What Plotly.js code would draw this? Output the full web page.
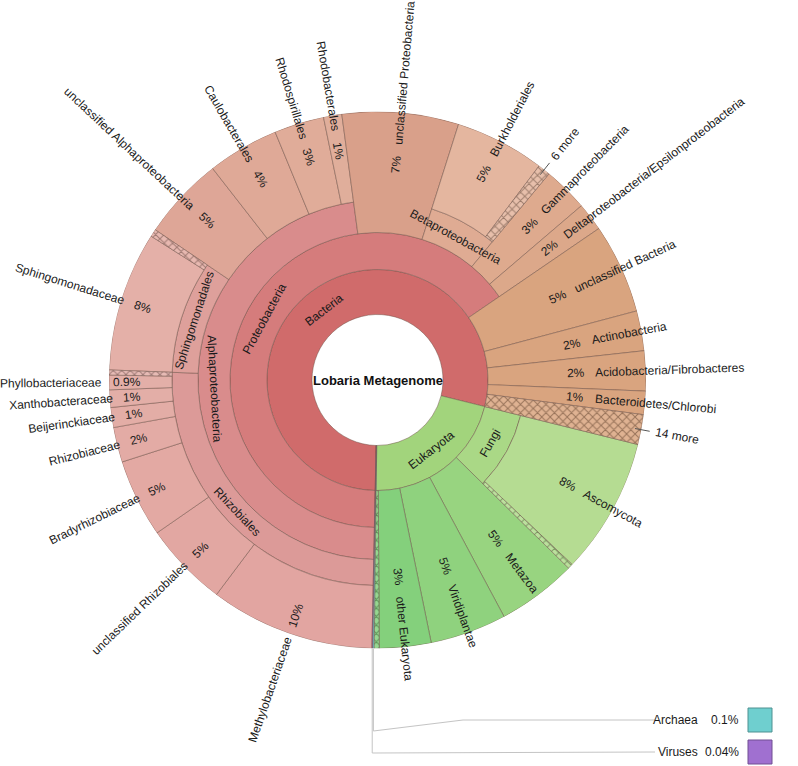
<!DOCTYPE html>
<html>
<head>
<meta charset="utf-8">
<script src="https://cdn.plot.ly/plotly-3.0.1.min.js"></script>
<style>
  html, body { margin: 0; padding: 0; background: #fff; }
  #chart { width: 798px; height: 766px; }
</style>
</head>
<body>
<div id="chart"></div>
<script>
// Krona-like view of the Lobaria metagenome, nodes listed clockwise from 6 o'clock
var names = [
  'Lobaria Metagenome',
  'Bacteria', 'Proteobacteria', 'Alphaproteobacteria', 'Rhizobiales',
  'Methylobacteriaceae', 'unclassified Rhizobiales', 'Bradyrhizobiaceae', 'Rhizobiaceae',
  'Beijerinckiaceae', 'Xanthobacteraceae', 'Phyllobacteriaceae', 'more Rhizobiales',
  'Sphingomonadales', 'Sphingomonadaceae', 'more Sphingomonadales',
  'unclassified Alphaproteobacteria', 'Caulobacterales', 'Rhodospirillales', 'Rhodobacterales',
  'unclassified Proteobacteria',
  'Betaproteobacteria', 'Burkholderiales', '6 more',
  'Gammaproteobacteria', 'Deltaproteobacteria/Epsilonproteobacteria',
  'unclassified Bacteria', 'Actinobacteria', 'Acidobacteria/Fibrobacteres', 'Bacteroidetes/Chlorobi', '14 more',
  'Eukaryota', 'Fungi', 'Ascomycota', 'more Fungi',
  'Metazoa', 'Viridiplantae', 'other Eukaryota', 'more Eukaryota',
  'Archaea', 'Viruses'
];
var parents = [
  '',
  'Lobaria Metagenome', 'Bacteria', 'Proteobacteria', 'Alphaproteobacteria',
  'Rhizobiales', 'Rhizobiales', 'Rhizobiales', 'Rhizobiales',
  'Rhizobiales', 'Rhizobiales', 'Rhizobiales', 'Rhizobiales',
  'Alphaproteobacteria', 'Sphingomonadales', 'Sphingomonadales',
  'Alphaproteobacteria', 'Alphaproteobacteria', 'Alphaproteobacteria', 'Alphaproteobacteria',
  'Proteobacteria',
  'Proteobacteria', 'Betaproteobacteria', 'Betaproteobacteria',
  'Proteobacteria', 'Proteobacteria',
  'Bacteria', 'Bacteria', 'Bacteria', 'Bacteria', 'Bacteria',
  'Lobaria Metagenome', 'Eukaryota', 'Fungi', 'Fungi',
  'Eukaryota', 'Eukaryota', 'Eukaryota', 'Eukaryota',
  'Lobaria Metagenome', 'Lobaria Metagenome'
];
// % of reads for leaves (0 = sum of children)
var values = [
  0,
  0, 0, 0, 0,
  9.9, 5.1, 4.7, 2.1,
  1.2, 1.05, 0.88, 0.3,
  0, 8.4, 0.45,
  5.0, 4.3, 3.0, 1.1,
  7.0,
  0, 5.4, 0.75,
  2.7, 1.7,
  5.4, 2.4, 2.4, 1.4, 1.8,
  0, 0, 8.2, 0.3,
  4.8, 4.6, 3.1, 0.3,
  0.1, 0.04
];
var collapsed = ['more Rhizobiales', 'more Sphingomonadales', '6 more', '14 more', 'more Fungi', 'more Eukaryota'];
var legendNodes = ['Archaea', 'Viruses'];

var colors = {
  'Bacteria': '#d06b6b', 'Proteobacteria': '#d57c7c', 'Alphaproteobacteria': '#d98c8c',
  'Rhizobiales': '#dc9a98', 'Sphingomonadales': '#dea09b',
  'Methylobacteriaceae': '#e2a5a1', 'unclassified Rhizobiales': '#e2a7a2', 'Bradyrhizobiaceae': '#e3a9a3',
  'Rhizobiaceae': '#e3aba5', 'Beijerinckiaceae': '#e3ada6', 'Xanthobacteraceae': '#e3aea7',
  'Phyllobacteriaceae': '#e3afa8', 'more Rhizobiales': '#e3afa8',
  'Sphingomonadaceae': '#e4b0a8', 'more Sphingomonadales': '#e3aca2',
  'unclassified Alphaproteobacteria': '#dea697', 'Caulobacterales': '#dfa997',
  'Rhodospirillales': '#e0ac99', 'Rhodobacterales': '#e0ae9b',
  'unclassified Proteobacteria': '#d9a08a',
  'Betaproteobacteria': '#dfab93', 'Burkholderiales': '#e4b69f', '6 more': '#e3b49c',
  'Gammaproteobacteria': '#deaa8e', 'Deltaproteobacteria/Epsilonproteobacteria': '#dca88a',
  'unclassified Bacteria': '#d9a47f', 'Actinobacteria': '#d9a47f', 'Acidobacteria/Fibrobacteres': '#d9a47f',
  'Bacteroidetes/Chlorobi': '#d9a47f', '14 more': '#d9a47f',
  'Eukaryota': '#a2d47c', 'Fungi': '#aad886', 'Ascomycota': '#b5dc92', 'more Fungi': '#b0da8c',
  'Metazoa': '#98d480', 'Viridiplantae': '#8fd27e', 'other Eukaryota': '#84d07c', 'more Eukaryota': '#84d07c',
  'Archaea': '#6fcfcf', 'Viruses': '#a070d0'
};

var W = 798, H = 766;
var CX = 377.5, CY = 380;
var RING = [0, 65.5, 110.5, 147.5, 179.5, 205.5, 268.5];
var R_OUT = 268.5;
var START = 1.2;          // degrees clockwise from 6 o'clock
var FONT = 'Liberation Sans, Arial, sans-serif';
var FS = 12;

// build tree
var kids = {};
for (var i = 1; i < names.length; i++) {
  if (!kids[parents[i]]) kids[parents[i]] = [];
  kids[parents[i]].push(names[i]);
}
var valueOf = {};
function sumUp(n) {
  var v = kids[n] ? kids[n].reduce(function(s, c) { return s + sumUp(c); }, 0) : values[names.indexOf(n)];
  valueOf[n] = v;
  return v;
}
var grand = sumUp(names[0]);

var nodes = [];
function place(n, a0, depth) {
  var span = valueOf[n] / grand * 360;
  if (depth > 0) nodes.push({name: n, a0: a0, a1: a0 + span, depth: depth, leaf: !kids[n]});
  var a = a0;
  (kids[n] || []).forEach(function(c) {
    place(c, a, depth + 1);
    a += valueOf[c] / grand * 360;
  });
}
place(names[0], START, 0);

function shade(hex, f) {
  var c = [1, 3, 5].map(function(k) { return parseInt(hex.substr(k, 2), 16); });
  c = c.map(function(v) { return Math.round(f > 0 ? v + (255 - v) * f : v * (1 + f)); });
  return 'rgb(' + c.join(',') + ')';
}

var outline = {color: 'rgba(110,80,70,0.6)', width: 0.8};
var solid = {theta: [], width: [], base: [], r: [], color: [], text: []};
var traces = [];
nodes.forEach(function(nd) {
  var inner = RING[nd.depth];
  var outer = nd.leaf ? R_OUT : RING[nd.depth + 1];
  nd.inner = inner; nd.outer = outer;
  var th = (nd.a0 + nd.a1) / 2, wd = nd.a1 - nd.a0;
  if (collapsed.indexOf(nd.name) >= 0) {
    // collapsed "more" nodes get their own hatched trace
    traces.push({type: 'barpolar', theta: [th], width: [wd], base: [inner], r: [outer - inner],
      text: [nd.name], hoverinfo: 'text',
      marker: {color: colors[nd.name], line: outline,
               pattern: {shape: 'x', size: 6, solidity: 0.3, fillmode: 'replace',
                         fgcolor: shade(colors[nd.name], -0.3), bgcolor: shade(colors[nd.name], 0.15)}}});
    return;
  }
  solid.theta.push(th);
  solid.width.push(wd);
  solid.base.push(inner);
  solid.r.push(outer - inner);
  solid.color.push(colors[nd.name]);
  solid.text.push(nd.name);
});
traces.unshift({type: 'barpolar', theta: solid.theta, width: solid.width, base: solid.base, r: solid.r,
  text: solid.text, hoverinfo: 'text', marker: {color: solid.color, line: outline}});

// text helpers
var ctx = document.createElement('canvas').getContext('2d');
ctx.font = FS + 'px "Liberation Sans", Arial, sans-serif';
function tw(s) { return ctx.measureText(s).width; }
function rad(d) { return d * Math.PI / 180; }
function px(a, r) { return [CX - r * Math.sin(rad(a)), CY + r * Math.cos(rad(a))]; }
function norm(d) { d = ((d % 180) + 180) % 180; return d > 90 ? d - 180 : d; }
function ann(a, r, text, angle, extra) {
  var p = px(a, r);
  var o = {x: p[0] / W, y: 1 - p[1] / H, xref: 'paper', yref: 'paper', text: text,
           showarrow: false, textangle: angle, xanchor: 'center', yanchor: 'middle',
           font: {family: FONT, size: FS, color: '#1a1a1a'}};
  for (var k in extra) o[k] = extra[k];
  return o;
}
function pctText(v) {
  var p = v / grand * 100;
  if (p < 0.1) return p.toFixed(2) + '%';
  if (p < 1) return p.toFixed(1) + '%';
  return Math.round(p) + '%';
}

var annotations = [];
var shapes = [];
var GAP = 11;

annotations.push(ann(0, 0, '<b>Lobaria Metagenome</b>', 0, {font: {family: FONT, size: 13, color: '#111'}}));

nodes.forEach(function(nd) {
  var am = (nd.a0 + nd.a1) / 2;
  var mid = (nd.inner + nd.outer) / 2;
  if (legendNodes.indexOf(nd.name) >= 0) return;
  if (!nd.leaf) {
    annotations.push(ann(am, mid, nd.name, norm(am)));
    return;
  }
  var rot = norm(am + 90);
  if (collapsed.indexOf(nd.name) >= 0) {
    if (/^\d+ more$/.test(nd.name)) {
      var p0 = px(am, 262), p1 = px(am, 277);
      shapes.push({type: 'line', xref: 'paper', yref: 'paper',
                   x0: p0[0] / W, y0: 1 - p0[1] / H, x1: p1[0] / W, y1: 1 - p1[1] / H,
                   line: {color: '#555', width: 1}});
      annotations.push(ann(am, 283 + tw(nd.name) / 2, nd.name, rot));
    }
    return;
  }
  var pt = pctText(valueOf[nd.name]);
  var wp = tw(pt), wn = tw(nd.name);
  annotations.push(ann(am, mid + wp / 2, pt, rot));
  annotations.push(ann(am, mid + wp + GAP + wn / 2, nd.name, rot));
});

// legend for the tiny top-level nodes
var legendY = [720, 752];
var legendLineX = [463, 655];
legendNodes.forEach(function(n, k) {
  var nd = nodes.filter(function(d) { return d.name === n; })[0];
  var s = px((nd.a0 + nd.a1) / 2, R_OUT);
  var y = legendY[k];
  var path = 'M' + (s[0] / W) + ',' + (1 - s[1] / H) +
             ' L' + (s[0] / W) + ',' + (1 - (y + 11 - 10 * k) / H);
  if (k === 0) path += ' L' + (legendLineX[0] / W) + ',' + (1 - y / H);
  path += ' L' + (legendLineX[1] / W) + ',' + (1 - y / H);
  shapes.push({type: 'path', xref: 'paper', yref: 'paper', path: path,
               line: {color: '#c4c4c4', width: 1}});
  var lfont = {family: FONT, size: FS, color: '#1a1a1a'};
  annotations.push({x: 700 / W, y: 1 - y / H, xref: 'paper', yref: 'paper', showarrow: false,
                    xanchor: 'right', yanchor: 'middle', text: n, font: lfont});
  annotations.push({x: 741 / W, y: 1 - y / H, xref: 'paper', yref: 'paper', showarrow: false,
                    xanchor: 'right', yanchor: 'middle', text: pctText(valueOf[n]), font: lfont});
  shapes.push({type: 'rect', xref: 'paper', yref: 'paper',
               x0: 748 / W, x1: 772 / W, y0: 1 - (y - 12) / H, y1: 1 - (y + 12) / H,
               fillcolor: colors[n], line: {color: shade(colors[n], -0.3), width: 1}});
});

var layout = {
  width: W, height: H,
  margin: {l: 0, r: 0, t: 0, b: 0},
  paper_bgcolor: '#fff',
  showlegend: false,
  polar: {
    domain: {x: [(CX - R_OUT) / W, (CX + R_OUT) / W], y: [1 - (CY + R_OUT) / H, 1 - (CY - R_OUT) / H]},
    bgcolor: '#fff',
    bargap: 0,
    radialaxis: {range: [0, R_OUT], visible: false},
    angularaxis: {direction: 'clockwise', rotation: 270, visible: false}
  },
  annotations: annotations,
  shapes: shapes
};

Plotly.newPlot('chart', traces, layout, {displayModeBar: false});
</script>
</body>
</html>
